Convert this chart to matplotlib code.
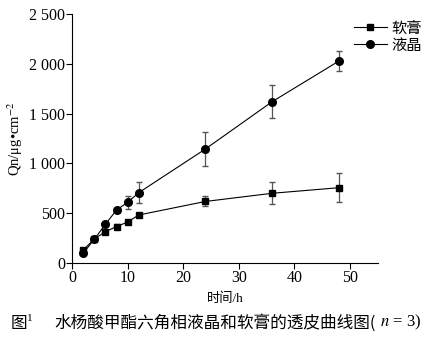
import matplotlib.pyplot as plt
from matplotlib.ticker import FuncFormatter
from matplotlib.lines import Line2D

plt.rcParams['font.family'] = ['Liberation Serif', 'Noto Sans CJK SC']
plt.rcParams['mathtext.fontset'] = 'stix'

t = [2, 4, 6, 8, 10, 12, 24, 36, 48]
ointment = [130, 240, 315, 365, 412, 482, 618, 700, 756]
ointment_err = [15, 10, 15, 22, 15, 15, 50, 112, 144]
crystal = [97, 238, 388, 532, 609, 706, 1145, 1620, 2028]
crystal_err = [10, 10, 15, 15, 67, 105, 172, 164, 100]

fig = plt.figure(figsize=(4.32, 3.40), dpi=100)
ax = fig.add_axes([0.1667, 0.2265, 0.708, 0.7323])

ax.errorbar(t, ointment, yerr=ointment_err, color='black', lw=0.8, marker='s', ms=5,
            ecolor='#555555', elinewidth=0.9, capsize=2)
ax.errorbar(t, crystal, yerr=crystal_err, color='black', lw=0.8, marker='o', ms=5.5,
            ecolor='#555555', elinewidth=0.9, capsize=2)

ax.set_xlim(0, 55)
ax.set_ylim(0, 2500)
ax.set_xticks([0, 10, 20, 30, 40, 50])
ax.set_yticks([0, 500, 1000, 1500, 2000, 2500])
ax.yaxis.set_major_formatter(FuncFormatter(lambda v, p: f'{int(v):,}'.replace(',', ' ')))
ax.spines['top'].set_visible(False)
ax.spines['right'].set_visible(False)
ax.tick_params(direction='out', length=4, width=0.8, labelsize=11.5, pad=1)

ax.set_xlabel('时间/h', fontsize=9.5, labelpad=5)
ax.set_ylabel('Qn/μg•cm$^{-2}$', fontsize=10.5, labelpad=3)

handles = [Line2D([], [], color='black', lw=0.8, marker='s', ms=5),
           Line2D([], [], color='black', lw=0.8, marker='o', ms=5.5)]
ax.legend(handles, ['软膏', '液晶'], loc='upper right', bbox_to_anchor=(1.17, 1.0),
          frameon=False, fontsize=11, handlelength=2.2, handletextpad=0.3,
          labelspacing=0.2, borderaxespad=0.1)

fig.text(0.025, 0.035, '图', fontsize=12, family=['Noto Sans CJK SC'])
fig.text(0.062, 0.055, '1', fontsize=8)
cap = fig.text(0.125, 0.035, '水杨酸甲酯六角相液晶和软膏的透皮曲线图(', fontsize=12,
               family=['Noto Sans CJK SC'])
fig.canvas.draw()
bb = cap.get_window_extent().transformed(fig.transFigure.inverted())
fig.text(bb.x1 + 0.01, 0.04, '$n$ = 3)', fontsize=12)

fig.savefig('out.png', dpi=100)
